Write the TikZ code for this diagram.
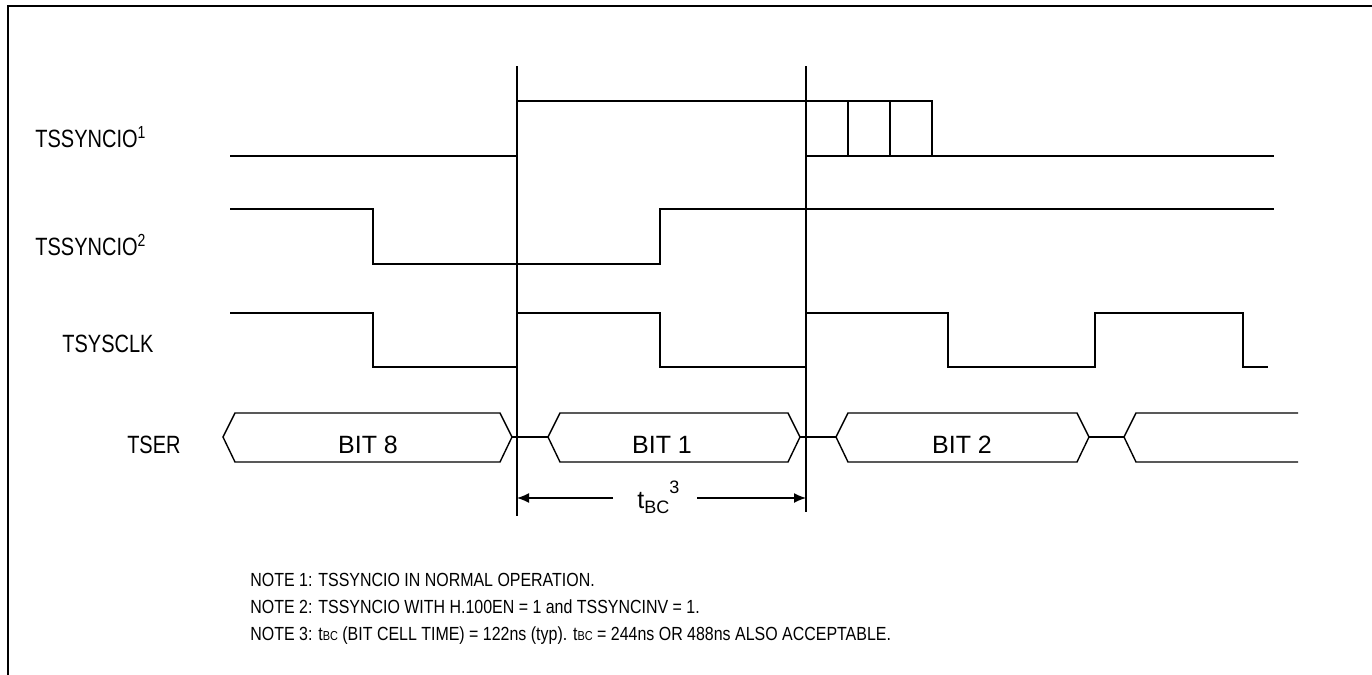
\documentclass[tikz,border=0pt]{standalone}
\usepackage{fontspec}
\setmainfont{Liberation Sans}
\newfontfamily\notefont[FakeStretch=0.84]{Liberation Sans}
\newfontfamily\namefont[FakeStretch=0.8]{Liberation Sans}
\usetikzlibrary{arrows.meta}
\tikzset{
    bus cell/.style 2 args={
        insert path={
            (#1,437) -- (#1+12,413) -- (#2-12,413) -- (#2,437) -- (#2-12,462) -- (#1+12,462) -- cycle
        }
    },
    wave/.style={line width=0.7pt},
    marker/.style={line width=1pt},
    siglabel/.style={anchor=base west, inner sep=0pt, font=\namefont\fontsize{12.5}{15}\selectfont},
    bitlabel/.style={anchor=base, inner sep=0pt, font=\fontsize{12.5}{15}\selectfont},
    notelabel/.style={anchor=base west, inner sep=0pt, font=\notefont\fontsize{9.5}{11}\selectfont}
}
\newcommand\smallsub[1]{{\fontsize{6.5}{8}\selectfont #1}}

\begin{document}
\begin{tikzpicture}[x=0.5pt, y=-0.5pt]
			\useasboundingbox (0,0) rectangle (1372,675);
			\draw[line width=1.3pt] (8,675) -- (8,6) -- (1372,6);

			% signal names
			\node[siglabel] (sync1) at (35,147) {TSSYNCIO\textsuperscript{1}};
			\node[siglabel] (sync2) at (35,255) {TSSYNCIO\textsuperscript{2}};
			\node[siglabel] (sysclk) at (62,352) {TSYSCLK};
			\node[siglabel, anchor=base east] (ser) at (181,453) {TSER};

			% bit cell markers
			\coordinate (mA) at (517,66);
			\coordinate (mAb) at (517,516);
			\coordinate (mB) at (806,66);
			\coordinate (mBb) at (806,512);
			\draw[marker] (mA) -- (mAb);
			\draw[marker] (mB) -- (mBb);

			% TSSYNCIO 1
			\draw[wave] (230,156) -- (517,156) -- (517,101) -- (932,101) -- (932,156);
			\draw[wave] (806,156) -- (1274,156);
			\draw[wave] (848,101) -- (848,156);
			\draw[wave] (890,101) -- (890,156);

			% TSSYNCIO 2
			\draw[wave] (230,209) -- (373,209) -- (373,264) -- (660,264) -- (660,209) -- (1274,209);

			% TSYSCLK
			\draw[wave] (230,313) -- (373,313) -- (373,367) -- (517,367) -- (517,313) -- (660,313) -- (660,367) -- (806,367)
				-- (806,313) -- (948,313) -- (948,367) -- (1095,367) -- (1095,313) -- (1243,313) -- (1243,367) -- (1268,367);

			% TSER
			\draw[wave, bus cell={223}{512}];
			\draw[wave, bus cell={548}{800}];
			\draw[wave, bus cell={836}{1089}];
			\draw[wave] (512,437) -- (548,437);
			\draw[wave] (800,437) -- (836,437);
			\draw[wave] (1089,437) -- (1124,437);
			\draw[wave] (1298,413) -- (1136,413) -- (1124,437) -- (1136,462) -- (1298,462);
			\node[bitlabel] (bit8) at (368,453) {BIT 8};
			\node[bitlabel] (bit1) at (662,453) {BIT 1};
			\node[bitlabel] (bit2) at (962,453) {BIT 2};

			% bit cell time
			\node[siglabel, font=\fontsize{12.5}{15}\selectfont] (tbc) at (637,508) {t\raisebox{-0.4ex}{\fontsize{9}{11}\selectfont BC}\raisebox{1.1ex}{\fontsize{9}{11}\selectfont 3}};
			\coordinate (tbcL) at (613,498);
			\coordinate (tbcR) at (697,498);
			\draw[wave, -{Latex[length=6pt,width=5pt]}] (tbcL) -- (mA |- tbcL);
			\draw[wave, -{Latex[length=6pt,width=5pt]}] (tbcR) -- (mB |- tbcR);

			% notes
			\node[notelabel] (note1) at (250,586) {NOTE 1: TSSYNCIO IN NORMAL OPERATION.};
			\node[notelabel] (note2) at (250,613) {NOTE 2: TSSYNCIO WITH H.100EN = 1 and TSSYNCINV = 1.};
			\node[notelabel] (note3) at (250,640) {NOTE 3: t\smallsub{BC} (BIT CELL TIME) = 122ns (typ). t\smallsub{BC} = 244ns OR 488ns ALSO ACCEPTABLE.};

		\end{tikzpicture}
\end{document}
